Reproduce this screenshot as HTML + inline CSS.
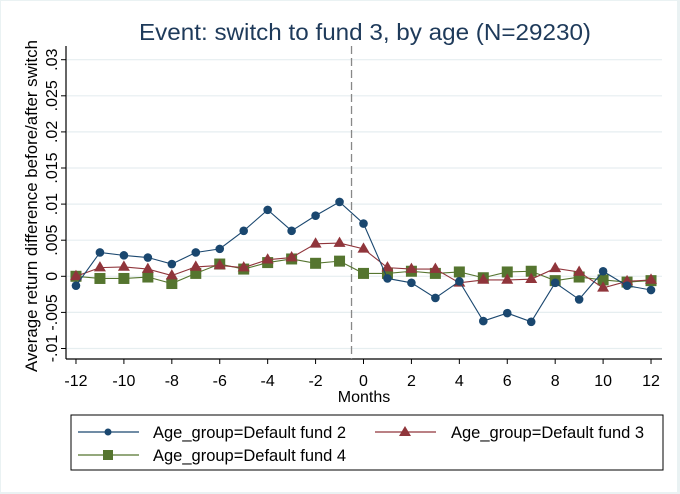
<!DOCTYPE html>
<html><head><meta charset="utf-8"><style>
html,body{margin:0;padding:0;background:#eaf2f3;}
svg{display:block;font-family:"Liberation Sans",Arial,sans-serif;}
</style></head><body>
<svg id="chart" width="680" height="494" viewBox="0 0 680 494" xmlns="http://www.w3.org/2000/svg">
<rect x="1" y="1" width="676" height="491" fill="#ffffff"/>
<text x="365" y="40" text-anchor="middle" font-size="23" fill="#1e3a5a" textLength="452" lengthAdjust="spacingAndGlyphs">Event: switch to fund 3, by age (N=29230)</text>
<g id="grid"></g>
<g id="axes"></g>
<g id="series"></g>
<text x="364" y="402" text-anchor="middle" font-size="16">Months</text>
<text transform="translate(37,206) rotate(-90)" text-anchor="middle" font-size="16.5" textLength="332" lengthAdjust="spacingAndGlyphs">Average return difference before/after switch</text>
<g>
<rect x="71" y="415" width="592" height="55" fill="#fff" stroke="#000" stroke-width="1"/>
<g>
<line x1="78" y1="432" x2="139" y2="432" stroke="#1a476f" stroke-width="1.2"/>
<circle cx="108" cy="432" r="3.5" fill="#1a476f"/>
<text x="153" y="438" font-size="16.5">Age_group=Default fund 2</text></g>
<g>
<line x1="375" y1="432" x2="436" y2="432" stroke="#90353b" stroke-width="1.2"/>
<polygon points="405,426 411,436 399,436" fill="#90353b"/>
<text x="451" y="438" font-size="16.5">Age_group=Default fund 3</text></g>
<g>
<line x1="78" y1="455" x2="139" y2="455" stroke="#55752f" stroke-width="1.2"/>
<rect x="103" y="450" width="10" height="10" fill="#55752f"/>
<text x="153" y="461" font-size="16.5">Age_group=Default fund 4</text></g>
</g>
</svg>
<script>
const months=[-12,-11,-10,-9,-8,-7,-6,-5,-4,-3,-2,-1,0,1,2,3,4,5,6,7,8,9,10,11,12];
const fund2=[-0.0013,0.0033,0.0029,0.0026,0.0017,0.0033,0.0038,0.0063,0.0092,0.0063,0.0084,0.0103,0.0073,-0.0003,-0.0009,-0.003,-0.0007,-0.0062,-0.0051,-0.0063,-0.0009,-0.0032,0.0007,-0.0013,-0.0019];
const fund3=[0,0.0012,0.0013,0.001,0.0001,0.0013,0.0015,0.0012,0.0023,0.0026,0.0045,0.0046,0.0038,0.0012,0.001,0.001,-0.0009,-0.0005,-0.0005,-0.0004,0.0011,0.0006,-0.0016,-0.0007,-0.0005];
const fund4=[0,-0.0003,-0.0003,-0.0001,-0.001,0.0004,0.0017,0.001,0.0019,0.0024,0.0018,0.0021,0.0004,0.0004,0.0007,0.0004,0.0006,-0.0002,0.0006,0.0007,-0.0006,-0.0001,-0.0005,-0.0008,-0.0006];
const yTicks=[-0.01,-0.005,0,0.005,0.01,0.015,0.02,0.025,0.03];
const yTickLabels=["-.01","-.005","0",".005",".01",".015",".02",".025",".03"];
const xTicks=[-12,-10,-8,-6,-4,-2,0,2,4,6,8,10,12];
const eventLine=-0.5;

const NS="http://www.w3.org/2000/svg";
function X(m){return 363.5+m*23.96;}
function Y(v){return 276.3-v/0.005*36.1;}
function mk(tag,attrs,parent){const e=document.createElementNS(NS,tag);for(const k in attrs)e.setAttribute(k,attrs[k]);parent.appendChild(e);return e;}
const grid=document.getElementById('grid'),axes=document.getElementById('axes'),ser=document.getElementById('series');
mk('rect',{x:67,y:46,width:595,height:313,fill:'#fff'},grid);
yTicks.forEach((t,i)=>{
  const l=mk('line',{x1:67,x2:662,y1:Y(t),y2:Y(t),stroke:'#e6eef0','stroke-width':1.2},grid);
  
  
  mk('line',{x1:61,x2:66,y1:Y(t),y2:Y(t),stroke:'#000'},axes);
  const tx=mk('text',{transform:`translate(57,${Y(t)}) rotate(-90)`,'text-anchor':'middle','font-size':16},axes);
  tx.textContent=yTickLabels[i];
  
  
});
mk('line',{x1:66,x2:66,y1:46,y2:359,stroke:'#000','stroke-width':1.2},axes);
mk('line',{x1:66,x2:662,y1:359,y2:359,stroke:'#000','stroke-width':1.2},axes);
xTicks.forEach(t=>{
  mk('line',{x1:X(t),x2:X(t),y1:359,y2:364,stroke:'#000'},axes);
  const tx=mk('text',{x:X(t),y:386,'text-anchor':'middle','font-size':16},axes);
  tx.textContent=t;
  
  
});
const ev=mk('line',{x1:X(eventLine),x2:X(eventLine),y1:46,y2:359,stroke:'#888','stroke-width':1.3,'stroke-dasharray':'8,4'},ser);


function draw(vals,color,shape,name){
  const g=mk('g',{},ser);
  
  
  mk('polyline',{points:vals.map((v,i)=>X(months[i])+','+Y(v)).join(' '),fill:'none',stroke:color,'stroke-width':1.1},g);
  vals.forEach((v,i)=>{
    const x=X(months[i]),y=Y(v);let m;
    if(shape==='c')m=mk('circle',{cx:x,cy:y,r:4.3,fill:color},g);
    else if(shape==='t')m=mk('polygon',{points:`${x},${y-6.5} ${x+6},${y+3.8} ${x-6},${y+3.8}`,fill:color},g);
    else m=mk('rect',{x:x-5.5,y:y-5.5,width:11,height:11,fill:color},g);
    
    
  });
}
draw(fund4,'#55752f','s','series-fund4');
draw(fund3,'#90353b','t','series-fund3');
draw(fund2,'#1a476f','c','series-fund2');
</script>
</body></html>
